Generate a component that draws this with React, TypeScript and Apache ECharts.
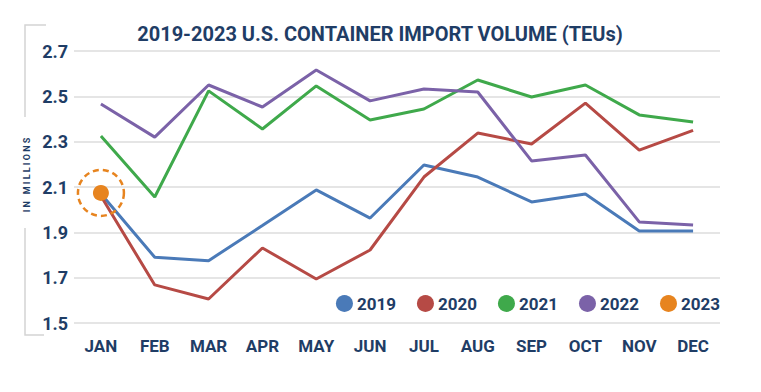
import React, { useEffect, useRef } from "react";
import * as echarts from "echarts";

const months = ["JAN", "FEB", "MAR", "APR", "MAY", "JUN", "JUL", "AUG", "SEP", "OCT", "NOV", "DEC"];
const yTicks = [1.5, 1.7, 1.9, 2.1, 2.3, 2.5, 2.7];
const v2019 = [2.07, 1.79, 1.775, 1.93, 2.087, 1.963, 2.197, 2.144, 2.034, 2.069, 1.906, 1.906];
const v2020 = [2.06, 1.668, 1.606, 1.831, 1.694, 1.822, 2.144, 2.338, 2.29, 2.47, 2.263, 2.35];
const v2021 = [2.325, 2.056, 2.524, 2.356, 2.546, 2.396, 2.444, 2.572, 2.497, 2.55, 2.418, 2.387];
const v2022 = [2.466, 2.32, 2.55, 2.453, 2.616, 2.48, 2.532, 2.519, 2.215, 2.241, 1.946, 1.932];
const v2023 = [2.074, null, null, null, null, null, null, null, null, null, null, null];
const seriesNames = ["2019", "2020", "2021", "2022", "2023"];
const colors = ["#4a7ab8", "#b64a45", "#3fa94b", "#7b62a8", "#e7841f"];

const NAVY = "#1f3d66";

export default function App() {
  const ref = useRef<HTMLDivElement>(null);
  useEffect(() => {
    if (!ref.current) return;
    const chart = echarts.init(ref.current, null, { renderer: "svg" });
    const lineSeries = [v2019, v2020, v2021, v2022].map((d, i) => ({
      name: seriesNames[i],
      type: "line",
      data: d,
      symbol: "none",
      lineStyle: { width: 3, color: colors[i] },
      itemStyle: { color: colors[i] },
      z: 2,
    }));
    chart.setOption({
      animation: false,
      backgroundColor: "#ffffff",
      color: colors,
      title: {
        text: "2019-2023 U.S. CONTAINER IMPORT VOLUME (TEUs)",
        left: 375,
        textAlign: "center",
        top: 19,
        textStyle: { fontFamily: "Roboto", fontWeight: "bold", fontSize: 20, color: NAVY },
      },
      grid: { left: 74, right: 41, top: 51, bottom: 69 },
      legend: {
        data: seriesNames,
        right: 41,
        top: 295,
        icon: "circle",
        itemWidth: 17,
        itemHeight: 17,
        itemGap: 21,
        backgroundColor: "#ffffff",
        padding: [0, 0, 0, 6],
        textStyle: { fontFamily: "Roboto", fontWeight: "bold", fontSize: 17, color: NAVY, padding: [0, 0, 0, -1] },
      },
      xAxis: {
        type: "category",
        data: months,
        boundaryGap: true,
        axisLine: { show: false },
        axisTick: { show: false },
        axisLabel: { margin: 14, fontFamily: "Roboto", fontWeight: "bold", fontSize: 17, color: NAVY },
      },
      yAxis: {
        type: "value",
        min: yTicks[0],
        max: yTicks[yTicks.length - 1],
        interval: 0.2,
        axisLine: { show: false },
        axisTick: { show: false },
        splitLine: { lineStyle: { color: "#dcdcdc", width: 1.5 } },
        axisLabel: {
          margin: 6,
          fontFamily: "Roboto",
          fontWeight: "bold",
          fontSize: 18,
          color: NAVY,
          formatter: (v: number) => v.toFixed(1),
        },
      },
      graphic: [
        {
          type: "polyline",
          shape: { points: [[46, 25], [25, 25], [25, 117]] },
          style: { stroke: "#d4d4d4", lineWidth: 1.5, fill: "none" },
        },
        {
          type: "polyline",
          shape: { points: [[25, 228], [25, 335], [44, 335]] },
          style: { stroke: "#d4d4d4", lineWidth: 1.5, fill: "none" },
        },
        {
          type: "text",
          x: 27,
          y: 175,
          rotation: Math.PI / 2,
          style: {
            text: "I N   M I L L I O N S",
            fontFamily: "Roboto",
            fontWeight: "bold",
            fontSize: 9,
            fill: NAVY,
            align: "center",
            verticalAlign: "middle",
          },
        },
      ],
      series: [
        ...lineSeries,
        {
          name: seriesNames[4],
          type: "line",
          data: v2023,
          symbol: "circle",
          symbolSize: 16,
          showSymbol: true,
          lineStyle: { width: 3, color: colors[4] },
          itemStyle: { color: colors[4] },
          z: 5,
          markPoint: {
            symbol: "circle",
            symbolSize: 46,
            silent: true,
            label: { show: false },
            itemStyle: { color: "rgba(0,0,0,0)", borderColor: colors[4], borderWidth: 2.5, borderType: [6, 4] },
            data: [{ coord: [0, v2023[0]] }],
          },
        },
      ],
    });
    return () => chart.dispose();
  }, []);
  return <div ref={ref} style={{ width: 761, height: 392, position: "fixed", left: 0, top: 0 }} />;
}
